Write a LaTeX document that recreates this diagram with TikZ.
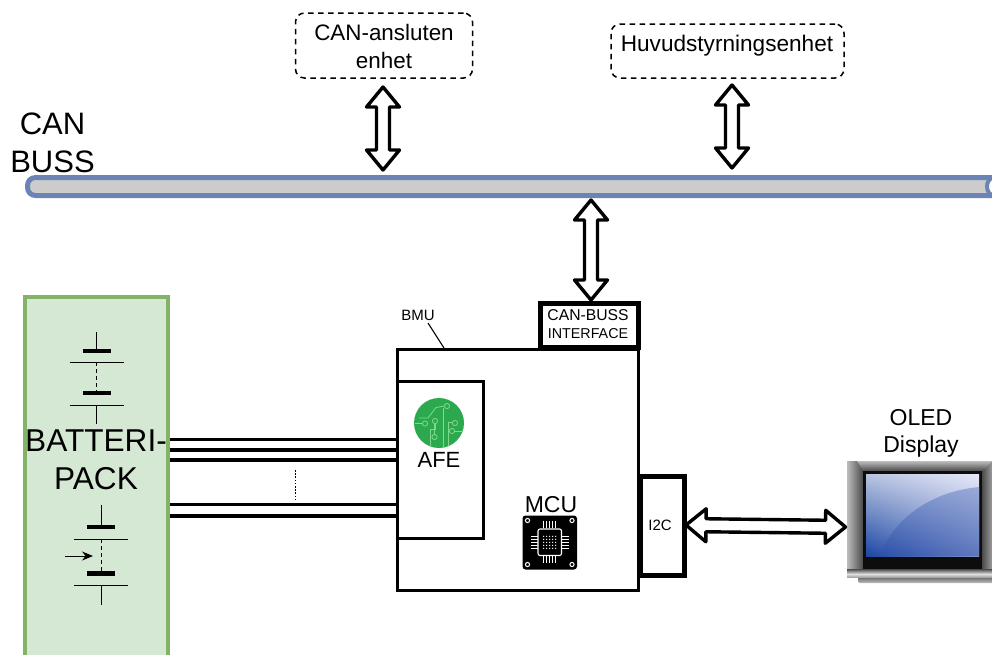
\documentclass[tikz,border=0pt]{standalone}
\usepackage{fontspec}
\setmainfont{Liberation Sans}
\usetikzlibrary{calc,arrows.meta,shapes.geometric,shadings}
\definecolor{busblue}{HTML}{6C84B5}
\definecolor{busgray}{HTML}{CCCCCC}
\definecolor{packgreen}{HTML}{82B366}
\definecolor{packfill}{HTML}{D5E8D4}
\definecolor{afegreen}{HTML}{2CA94F}
\definecolor{tracegreen}{HTML}{7FD98C}
\definecolor{scrLL}{HTML}{1B46A4}
\definecolor{scrLR}{HTML}{8297CC}
\definecolor{scrUL}{HTML}{B8C4E0}
\definecolor{scrUR}{HTML}{E6E8F9}
\definecolor{lowLL}{HTML}{2A50AA}
\definecolor{lowLR}{HTML}{5F78BD}
\definecolor{lowUL}{HTML}{7F95CC}
\definecolor{lowUR}{HTML}{9AABD8}
\definecolor{bezL}{HTML}{BDBDBD}
\definecolor{bezD}{HTML}{4A4A4A}
\newcommand{\txt}[2]{\fontsize{#1}{#2}\selectfont}
\newcommand{\dblarrow}[2]{%
  \coordinate (h1) at ($(#1)!20pt!(#2)$);
  \coordinate (h2) at ($(#2)!20pt!(#1)$);
  \draw[bigarrow] (#1) -- ($(h1)!16.5pt!90:(#2)$) -- ($(h1)!6.5pt!90:(#2)$) -- ($(h2)!6.5pt!-90:(#1)$) -- ($(h2)!16.5pt!-90:(#1)$) -- (#2)
    -- ($(h2)!16.5pt!90:(#1)$) -- ($(h2)!6.5pt!90:(#1)$) -- ($(h1)!6.5pt!-90:(#2)$) -- ($(h1)!16.5pt!-90:(#2)$) -- cycle;}
% x, top of wire, first bar centre, first thin line, second bar centre
\newcommand{\battcell}[5]{%
  \draw[thinline] (#1,#2) -- (#1,#3);
  \fill (#1-14,#3-2.3) rectangle (#1+14,#3+2.3);
  \draw[thinline] (#1-27,#4) -- (#1+27,#4);
  \draw[thinline,dash pattern=on 4pt off 3pt] (#1,#4) -- (#1,#5);
  \fill (#1-14,#5-2.3) rectangle (#1+14,#5+2.3);
  \draw[thinline] (#1-27,#5+12) -- (#1+27,#5+12);
  \draw[thinline] (#1,#5+12) -- (#1,#5+31);}
\tikzset{
  x=1pt,y=-1pt,
  dashbox/.style={draw,line width=1.5pt,dash pattern=on 5.5pt off 4.5pt,rounded corners=9pt,inner sep=0pt,outer sep=0pt,anchor=north west,fill=white},
  solidbox/.style={draw,fill=white,inner sep=0pt,outer sep=0pt,anchor=north west},
  txtlabel/.style={inner sep=0pt,align=center},
  bigarrow/.style={draw,line width=3.4pt,line join=round,fill=white},
  thinline/.style={line width=1pt},
  trace/.style={tracegreen,line width=.8pt},
  ring/.style={tracegreen,line width=.8pt,fill=afegreen}
}
\begin{document}
\begin{tikzpicture}
\useasboundingbox (0,0) rectangle (992,654);
\clip (0,0) rectangle (992,654);
% CAN bus
\draw[busblue,line width=5pt,fill=busgray,rounded corners=8pt] (27.5,177.5) rectangle (1020,195.5);
\node[busblue,draw,line width=4pt,fill=white,ellipse,minimum width=12pt,minimum height=17pt,inner sep=0pt] (busend) at (993,186.5) {};
\node[txtlabel,font=\txt{31}{38.5}] (canbuss) at (52.5,143) {CAN\\BUSS};
% top boxes
\node[dashbox,minimum width=177pt,minimum height=65pt] (dev) at (295.5,13) {};
\node[txtlabel,font=\txt{22.4}{28}] (devt) at (384,46.5) {CAN-ansluten\\enhet};
\node[dashbox,minimum width=233pt,minimum height=54pt] (main) at (611,24) {};
\node[txtlabel,font=\txt{22.6}{28}] (maint) at (727,46) {Huvudstyrningsenhet};
% battery pack
\node[draw=packgreen,fill=packfill,line width=3.6pt,inner sep=0pt,minimum width=143pt,minimum height=420pt,anchor=north west] (pack) at (23.2,295.2) {};
\battcell{96.7}{332}{351}{362}{393}
\battcell{101}{505}{527}{539}{573.5}
\coordinate (ar1) at (65,556);
\coordinate (ar2) at (93,556);
\draw[thinline,-{Stealth[length=11pt,width=9pt]}] (ar1) -- (ar2);
\node[txtlabel,font=\txt{31.6}{38}] (packt) at (96,460) {BATTERI-\\PACK};
% BMU
\node[solidbox,line width=3pt,minimum width=241pt,minimum height=241pt] (bmu) at (397.5,349) {};
\node[solidbox,line width=3pt,minimum width=85.5pt,minimum height=157pt] (afe) at (397.5,381.5) {};
\node[solidbox,line width=5pt,minimum width=98pt,minimum height=44pt] (canif) at (540.5,303.5) {};
\node[txtlabel,font=\txt{15}{18}] (canift) at (588,324) {{\txt{15.7}{18}CAN-BUSS}\\{\txt{14.3}{18}INTERFACE}};
\node[solidbox,line width=5pt,minimum width=44pt,minimum height=99pt] (i2c) at (640.5,476) {};
\node[txtlabel,font=\txt{15}{18}] (i2ct) at (660,525) {I2C};
\node[txtlabel,font=\txt{15}{18}] (bmut) at (418,315) {BMU};
\coordinate (bmulead) at (428,323);
\coordinate (bmutop) at (444,348);
\draw[line width=1.1pt] (bmulead) -- (bmutop);
% wires
\foreach \y/\w/\n in {439/3/w1,450/3.8/w2,460/3.8/w3,504/3/w4,516/3.8/w5}{
  \coordinate (\n) at (0,\y);
  \draw[line width=\w pt] (pack.east |- \n) -- (afe.west |- \n);
}
\coordinate (dots1) at (295,470);
\coordinate (dots2) at (295,501);
\draw[line width=.8pt,dash pattern=on 1.6pt off 1.6pt] (dots1) -- (dots2);
% AFE icon
\fill[afegreen] (439,423) circle (25);
\begin{scope}
\clip (439,423) circle (25);
\draw[trace] (419,418) -- (428,418) -- (436,407.5) -- (444.5,406);
\draw[trace] (415,423.5) -- (423,423.5);
\draw[trace] (443.5,448) -- (443.5,408) ;
\draw[trace] (435,423.5) -- (435,429) -- (430,429) -- (430,448);
\draw[trace] (434,434.5) -- (434,423);
\draw[trace] (448,448) -- (448,422) -- (452.5,422);
\draw[trace] (454,431) -- (462,431);
\draw[ring] (447,406) circle (2.6);
\draw[ring] (435,421) circle (2.6);
\draw[ring] (425,423.5) circle (2.6);
\draw[ring] (455,423) circle (2.6);
\draw[ring] (452,431) circle (2.6);
\draw[ring] (434.5,437) circle (2.6);
\end{scope}
\node[txtlabel,font=\txt{22}{26}] (afet) at (439,460) {AFE};
% MCU icon
\node[txtlabel,font=\txt{23}{26}] (mcut) at (551,505) {MCU};
\fill[black,rounded corners=3pt] (522.5,515.5) rectangle (577,569.5);
\foreach \cx/\cy in {527.5/520.5,572/520.5,527.5/564.5,572/564.5}{
  \draw[white,line width=1pt] (\cx,\cy) circle (2.1);
}
\draw[white,line width=1.1pt,rounded corners=2pt] (538,529) rectangle (561.5,555.5);
\foreach \d in {-6,-3,0,3,6}{
  \draw[white,line width=1pt] (549.7+\d,521) -- (549.7+\d,528);
  \draw[white,line width=1pt] (549.7+\d,556) -- (549.7+\d,563);
  \draw[white,line width=1pt] (531,542.3+\d) -- (537.5,542.3+\d);
  \draw[white,line width=1pt] (562,542.3+\d) -- (568.5,542.3+\d);
  \foreach \e in {-6,-3,0,3,6}{
    \fill[white] (549.7+\d,542.3+\e) circle (.7);
  }
}
% monitor
\shade[top color=bezD,bottom color=gray!50,rounded corners=2pt] (858,575) rectangle (996,583);
\shade[left color=bezL,right color=bezD] (847,461) rectangle (863,574);
\shade[left color=bezD,right color=bezL] (982,461) rectangle (996,574);
\shade[top color=bezL,bottom color=bezD] (857,461) -- (992,461) -- (984,471) -- (863,471) -- cycle;
\shade[top color=bezD,bottom color=gray!25] (847,569) rectangle (996,574);
\shade[top color=gray!25,bottom color=gray!70] (847,574) rectangle (996,577);
\fill[black!95] (863,471) rectangle (982,569);
\shade[lower left=scrLL,lower right=scrLR,upper left=scrUL,upper right=scrUR] (866,474) rectangle (979,556);
\begin{scope}
\clip (866,474) rectangle (979,556);
\shade[lower left=lowLL,lower right=lowLR,upper left=lowUL,upper right=lowUR] (880,556) .. controls (890,525) and (925,492) .. (979,487) -- (979,556) -- cycle;
\end{scope}
\node[txtlabel,font=\txt{23}{27}] (oled) at (921,433) {OLED\\Display};
\coordinate (monitor) at (845.5,527);
% double arrows
\coordinate (a1) at (383,87);  \coordinate (a2) at (383,170);
\dblarrow{a1}{a2}
\coordinate (b1) at (732,85);  \coordinate (b2) at (732,168);
\dblarrow{b1}{b2}
\coordinate (c1) at (591,200); \coordinate (c2) at (591,300);
\dblarrow{c1}{c2}
\coordinate (d1) at (686,525);
\dblarrow{d1}{monitor}
\end{tikzpicture}
\end{document}
